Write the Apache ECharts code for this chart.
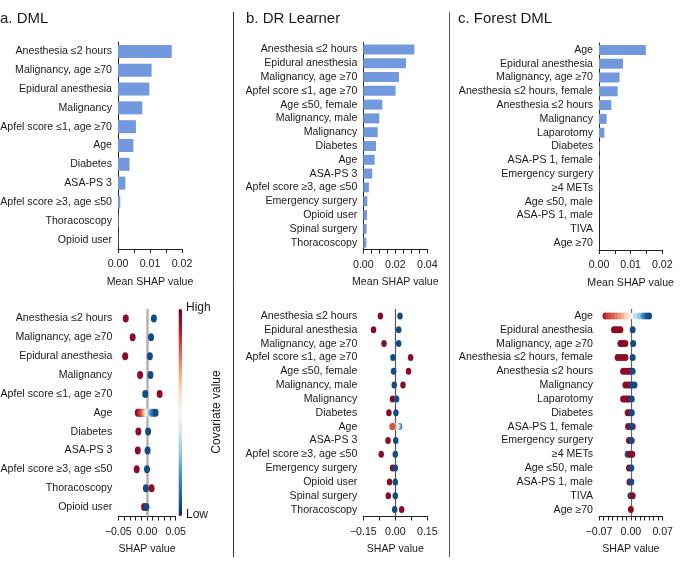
<!DOCTYPE html>
<html><head><meta charset="utf-8">
<script src="https://cdn.jsdelivr.net/npm/echarts@6/dist/echarts.min.js"></script>
<style>html,body{margin:0;padding:0;background:#fff}#c{width:685px;height:566px}</style>
</head><body><div id="c"></div>
<script>
// ---------- DATA ----------
const aCats = ['Anesthesia ≤2 hours','Malignancy, age ≥70','Epidural anesthesia','Malignancy','Apfel score ≤1, age ≥70','Age','Diabetes','ASA-PS 3','Apfel score ≥3, age ≤50','Thoracoscopy','Opioid user'];
const aMean = [0.0168,0.0105,0.0098,0.0076,0.0056,0.0048,0.0036,0.0023,0.0007,0.0002,0.0001];

const bCats = ['Anesthesia ≤2 hours','Epidural anesthesia','Malignancy, age ≥70','Apfel score ≤1, age ≥70','Age ≤50, female','Malignancy, male','Malignancy','Diabetes','Age','ASA-PS 3','Apfel score ≥3, age ≤50','Emergency surgery','Opioid user','Spinal surgery','Thoracoscopy'];
const bMean = [0.0319,0.0267,0.0223,0.0202,0.0119,0.0100,0.0090,0.0079,0.0071,0.0056,0.0035,0.0025,0.0023,0.0021,0.0019];

const cCats = ['Age','Epidural anesthesia','Malignancy, age ≥70','Anesthesia ≤2 hours, female','Anesthesia ≤2 hours','Malignancy','Laparotomy','Diabetes','ASA-PS 1, female','Emergency surgery','≥4 METs','Age ≤50, male','ASA-PS 1, male','TIVA','Age ≥70'];
const cMean = [0.0148,0.0076,0.0065,0.0059,0.0039,0.0024,0.0017,0.0002,0.0002,0.0001,0.0001,0,0,0,0];

// SHAP points: [shap value, row index, covariate value (0 = low, 1 = high)]
const aShap = [
  [-0.037,0,0.95],[0.012,0,0.05],
  [-0.025,1,0.95],[0.007,1,0.05],
  [-0.038,2,0.95],[0.005,2,0.05],
  [-0.012,3,0.95],[0.006,3,0.05],
  [-0.003,4,0.05],[0.022,4,0.95],
  [-0.016,5,0.95],[-0.013,5,0.9],[-0.010,5,0.85],[-0.007,5,0.8],[-0.004,5,0.72],[-0.001,5,0.6],[0.003,5,0.45],[0.006,5,0.3],[0.009,5,0.2],[0.012,5,0.12],[0.015,5,0.05],
  [-0.015,6,0.95],[0.002,6,0.05],
  [-0.016,7,0.95],[0.001,7,0.05],
  [-0.018,8,0.95],[0.000,8,0.05],
  [-0.002,9,0.05],[0.008,9,0.95],
  [-0.005,10,0.95],[-0.001,10,0.05]
];
const bShap = [
  [-0.070,0,0.95],[0.022,0,0.05],
  [-0.102,1,0.95],[0.016,1,0.05],
  [-0.053,2,0.95],[0.016,2,0.05],
  [-0.011,3,0.05],[0.072,3,0.95],
  [-0.008,4,0.05],[0.062,4,0.95],
  [-0.005,5,0.05],[0.036,5,0.95],
  [-0.013,6,0.95],[0.006,6,0.05],
  [-0.030,7,0.95],[0.003,7,0.05],
  [0.020,8,0.15],[0.015,8,0.25],[0.010,8,0.35],[0.004,8,0.45],[-0.007,8,0.7],[-0.011,8,0.78],[-0.015,8,0.82],
  [-0.034,9,0.95],[0.002,9,0.05],
  [-0.066,10,0.95],[0.000,10,0.05],
  [-0.013,11,0.95],[0.000,11,0.05],
  [-0.027,12,0.95],[0.000,12,0.05],
  [-0.033,13,0.95],[0.000,13,0.05],
  [-0.003,14,0.05],[0.030,14,0.95]
];
const cShap = [
  [-0.056,0,0.9],[-0.050,0,0.85],[-0.044,0,0.82],[-0.037,0,0.8],[-0.030,0,0.76],[-0.023,0,0.72],[-0.016,0,0.68],[-0.009,0,0.62],[-0.003,0,0.56],[0.004,0,0.46],[0.012,0,0.38],[0.020,0,0.3],[0.028,0,0.2],[0.034,0,0.1],[0.040,0,0.05],
  [-0.037,1,0.95],[-0.033,1,0.95],[-0.028,1,0.95],[-0.023,1,0.95],[0.004,1,0.05],
  [-0.023,2,0.95],[-0.018,2,0.95],[-0.012,2,0.95],[0.005,2,0.05],
  [-0.029,3,0.95],[-0.024,3,0.95],[-0.018,3,0.95],[-0.012,3,0.95],[0.004,3,0.05],
  [-0.017,4,0.95],[-0.012,4,0.95],[-0.007,4,0.95],[-0.002,4,0.95],[0.004,4,0.05],
  [-0.012,5,0.95],[-0.007,5,0.95],[-0.002,5,0.95],[0.003,5,0.05],[0.008,5,0.05],
  [-0.017,6,0.95],[-0.012,6,0.95],[-0.007,6,0.95],[-0.004,6,0.95],[0.002,6,0.05],
  [-0.007,7,0.95],[-0.003,7,0.95],[0.002,7,0.05],
  [-0.006,8,0.95],[0.004,8,0.95],[0.000,8,0.05],
  [-0.004,9,0.95],[0.002,9,0.05],
  [-0.007,10,0.05],[-0.002,10,0.95],[0.003,10,0.95],
  [-0.004,11,0.95],[0.001,11,0.05],
  [-0.003,12,0.95],[0.001,12,0.05],
  [-0.001,13,0.05],[0.004,13,0.95],
  [0.000,14,0.95]
];

// ---------- STYLE ----------
const F = '"Liberation Sans", Arial, Helvetica, sans-serif';
const TXT = '#1a1a1a';
const BAR = '#7299dd';
const RDBU = ['#053061','#2166ac','#4393c3','#92c5de','#d1e5f0','#f7f7f7','#fddbc7','#f4a582','#d6604d','#b2182b','#67001f'];

function fmt(step){
  return function(v){
    const r = v/step;
    if (Math.abs(r-Math.round(r))>1e-6) return '';
    if (Math.abs(v)<1e-9) return '0.00';
    return (v<0?'\u2212':'') + Math.abs(v).toFixed(2);
  };
}
function xAx(grid, min, max, interval, labStep, name){
  return {
    type:'value', gridIndex:grid, min:min, max:max, interval:interval,
    name:name, nameLocation:'middle', nameGap:27.5,
    nameTextStyle:{fontFamily:F, fontSize:10.6, color:TXT},
    axisLine:{show:true, lineStyle:{color:'#222', width:1}},
    axisTick:{show:true, length:4, lineStyle:{color:'#222', width:1}},
    axisLabel:{formatter:fmt(labStep), fontFamily:F, fontSize:10.6, color:TXT, margin:10, showMinLabel:true, showMaxLabel:true},
    splitLine:{show:false}
  };
}
function yAx(grid, cats, showLine){
  return {
    type:'category', gridIndex:grid, data:cats, inverse:true,
    axisLine:{show:showLine, onZero:false, lineStyle:{color:'#222', width:1}},
    axisTick:{show:false},
    axisLabel:{fontFamily:F, fontSize:10.6, color:TXT, margin:6, interval:0},
    splitLine:{show:false}
  };
}
function beeSeries(idx, data, size, lineColor, lineWidth){
  return {
    type:'scatter', xAxisIndex:idx, yAxisIndex:idx, data:data, z:3,
    symbol:'circle', symbolSize:size, silent:true,
    itemStyle:{opacity:1},
    markLine:{z:1, silent:true, symbol:['none','none'], label:{show:false},
      lineStyle:{color:lineColor, width:lineWidth, type:'solid'}, data:[{xAxis:0}]}
  };
}
function grid(l, t, w, h){
  return {left:l, top:t, width:w, height:h, containLabel:false, outerBoundsMode:'none'};
}

const option = {
  animation:false,
  backgroundColor:'#fff',
  title:[
    {text:'a. DML', left:0, top:11, padding:0, textStyle:{fontFamily:F, fontSize:15, fontWeight:'normal', color:TXT}},
    {text:'b. DR Learner', left:246, top:11, padding:0, textStyle:{fontFamily:F, fontSize:15, fontWeight:'normal', color:TXT}},
    {text:'c. Forest DML', left:458, top:11, padding:0, textStyle:{fontFamily:F, fontSize:15, fontWeight:'normal', color:TXT}}
  ],
  grid:[
    grid(118, 42, 64, 207),
    grid(363.3, 42.5, 64, 207),
    grid(599, 43, 63.3, 207),
    grid(118.3, 309, 57.4, 207.5),
    grid(363.3, 309, 64, 207.5),
    grid(599, 309, 63.7, 207.5)
  ],
  xAxis:[
    xAx(0, 0, 0.02, 0.005, 0.01, 'Mean SHAP value'),
    xAx(1, 0, 0.04, 0.005, 0.02, 'Mean SHAP value'),
    xAx(2, 0, 0.02, 0.005, 0.01, 'Mean SHAP value'),
    xAx(3, -0.05, 0.05, 0.01, 0.05, 'SHAP value'),
    xAx(4, -0.15, 0.15, 0.075, 0.15, 'SHAP value'),
    xAx(5, -0.07, 0.07, 0.01, 0.07, 'SHAP value')
  ],
  yAxis:[
    yAx(0, aCats, true), yAx(1, bCats, true), yAx(2, cCats, true),
    yAx(3, aCats, false), yAx(4, bCats, false), yAx(5, cCats, false)
  ],
  visualMap:[{
    type:'continuous', min:0, max:1, dimension:2, seriesIndex:[3,4,5],
    orient:'vertical', left:178.5, top:309, itemWidth:3.5, itemHeight:207,
    calculable:false, padding:0, inRange:{color:RDBU}, textStyle:{color:'transparent'}
  }],
  series:[
    {type:'bar', xAxisIndex:0, yAxisIndex:0, data:aMean, barWidth:13, itemStyle:{color:BAR}, silent:true},
    {type:'bar', xAxisIndex:1, yAxisIndex:1, data:bMean, barWidth:10, itemStyle:{color:BAR}, silent:true},
    {type:'bar', xAxisIndex:2, yAxisIndex:2, data:cMean, barWidth:10, itemStyle:{color:BAR}, silent:true},
    beeSeries(3, aShap, [6,8], '#b3b3b3', 2.5),
    beeSeries(4, bShap, [5.5,7], '#555', 1.2),
    beeSeries(5, cShap, [6,7], '#666', 1.2)
  ],
  graphic:[
    {type:'line', shape:{x1:233.5, y1:12, x2:233.5, y2:557}, style:{stroke:'#333', lineWidth:1}, silent:true},
    {type:'line', shape:{x1:449.5, y1:12, x2:449.5, y2:557}, style:{stroke:'#555', lineWidth:1}, silent:true},
    {type:'text', left:186, top:302, style:{text:'High', font:'12px '+F, fill:TXT}, silent:true},
    {type:'text', left:186, top:509, style:{text:'Low', font:'12px '+F, fill:TXT}, silent:true},
    {type:'text', x:217, y:412, rotation:Math.PI/2, style:{text:'Covariate value', font:'12px '+F, fill:TXT, align:'center', verticalAlign:'middle'}, silent:true}
  ]
};

const chart = echarts.init(document.getElementById('c'), null, {renderer:'canvas'});
chart.setOption(option);
</script></body></html>
